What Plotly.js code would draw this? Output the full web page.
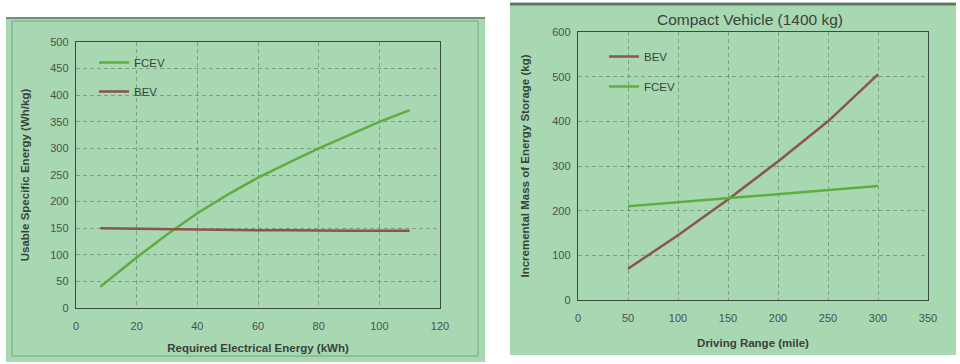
<!DOCTYPE html>
<html>
<head>
<meta charset="utf-8">
<script src="https://cdn.plot.ly/plotly-3.0.1.min.js"></script>
<style>html,body{margin:0;padding:0;background:#fff;}#chart{width:960px;height:364px;}</style>
</head>
<body>
<div id="chart"></div>
<script>
// Left chart: Usable specific energy vs required electrical energy
const energyKWh = [8, 20, 30, 40, 50, 60, 70, 80, 90, 100, 110];
const fcevSpecific = [40, 95, 138, 178, 213, 245, 273, 300, 325, 350, 372];
const bevSpecific = [150, 149, 148, 147, 147, 146, 146, 145, 145, 145, 145];

// Right chart: Incremental mass of energy storage vs driving range
const rangeMile = [50, 100, 150, 200, 250, 300];
const bevMass = [70, 145, 225, 310, 400, 505];
const fcevMass = [210, 219, 228, 237, 246, 255];

const leftXTicks = [0, 20, 40, 60, 80, 100, 120];
const leftYTicks = [0, 50, 100, 150, 200, 250, 300, 350, 400, 450, 500];
const rightXTicks = [0, 50, 100, 150, 200, 250, 300, 350];
const rightYTicks = [0, 100, 200, 300, 400, 500, 600];

const GREEN = '#5dae3e';
const BROWN = '#8c5546';
const BG = '#a8d8b2';
const W = 960, H = 364;
const px = v => v / W;
const py = v => 1 - v / H;

const traces = [
  {x: energyKWh, y: fcevSpecific, name: 'FCEV', type: 'scatter', mode: 'lines', line: {color: GREEN, width: 2.5}, xaxis: 'x', yaxis: 'y', legend: 'legend', legendgroup: 'a'},
  {x: energyKWh, y: bevSpecific, name: 'BEV', type: 'scatter', mode: 'lines', line: {color: BROWN, width: 2.5}, xaxis: 'x', yaxis: 'y', legend: 'legend', legendgroup: 'b'},
  {x: rangeMile, y: bevMass, name: 'BEV', type: 'scatter', mode: 'lines', line: {color: BROWN, width: 2.5}, xaxis: 'x2', yaxis: 'y2', legend: 'legend2', legendgroup: 'c'},
  {x: rangeMile, y: fcevMass, name: 'FCEV', type: 'scatter', mode: 'lines', line: {color: GREEN, width: 2.5}, xaxis: 'x2', yaxis: 'y2', legend: 'legend2', legendgroup: 'd'}
];

const axisCommon = {
  showgrid: true, gridcolor: 'rgba(50,70,55,0.38)', griddash: '4px,3px', gridwidth: 1,
  showline: true, linecolor: '#3c4a40', linewidth: 1.2, mirror: true,
  zeroline: false, ticks: '', tickfont: {family: 'Liberation Sans, Arial, sans-serif', size: 11, color: '#4a524c'},
  fixedrange: true
};
const titleFont = {family: 'Liberation Sans, Arial, sans-serif', size: 11.5, color: '#3a423c', weight: 'bold'};

const layout = {
  width: W, height: H,
  margin: {l: 0, r: 0, t: 0, b: 0},
  paper_bgcolor: '#ffffff',
  plot_bgcolor: 'rgba(0,0,0,0)',
  showlegend: true,
  font: {family: 'Liberation Sans, Arial, sans-serif'},
  title: {text: 'Compact Vehicle (1400 kg)', x: px(750), xanchor: 'center', y: py(20), yanchor: 'middle',
          font: {family: 'Liberation Sans, Arial, sans-serif', size: 15.5, color: '#3a423c'}},
  xaxis: Object.assign({}, axisCommon, {domain: [px(76), px(440)], range: [0, 120], tickvals: leftXTicks, ticklabelstandoff: 8,
    title: {text: 'Required Electrical Energy (kWh)', font: titleFont, standoff: 12}, anchor: 'y'}),
  yaxis: Object.assign({}, axisCommon, {domain: [py(308), py(42)], range: [0, 500], tickvals: leftYTicks, ticklabelstandoff: 4,
    title: {text: 'Usable Specific Energy (Wh/kg)', font: titleFont, standoff: 18}, anchor: 'x'}),
  xaxis2: Object.assign({}, axisCommon, {domain: [px(578), px(928)], range: [0, 350], tickvals: rightXTicks, ticklabelstandoff: 8,
    title: {text: 'Driving Range (mile)', font: titleFont, standoff: 15}, anchor: 'y2'}),
  yaxis2: Object.assign({}, axisCommon, {domain: [py(300), py(32)], range: [0, 600], tickvals: rightYTicks, ticklabelstandoff: 4,
    title: {text: 'Incremental Mass of Energy Storage (kg)', font: titleFont, standoff: 20}, anchor: 'x2'}),
  legend: {x: px(94), y: py(48), xanchor: 'left', yanchor: 'top', bgcolor: 'rgba(0,0,0,0)', borderwidth: 0,
    font: {family: 'Liberation Sans, Arial, sans-serif', size: 11.5, color: '#3a423c'}, tracegroupgap: 10, traceorder: 'grouped', itemwidth: 30},
  legend2: {x: px(604), y: py(42), xanchor: 'left', yanchor: 'top', bgcolor: 'rgba(0,0,0,0)', borderwidth: 0,
    font: {family: 'Liberation Sans, Arial, sans-serif', size: 11.5, color: '#3a423c'}, tracegroupgap: 11, traceorder: 'grouped', itemwidth: 30},
  shapes: [
    {type: 'rect', xref: 'paper', yref: 'paper', x0: px(6), x1: px(485), y0: py(362), y1: py(17), fillcolor: BG, line: {width: 0}, layer: 'below'},
    {type: 'rect', xref: 'paper', yref: 'paper', x0: px(12), x1: px(478), y0: py(356), y1: py(21), fillcolor: 'rgba(0,0,0,0)', line: {width: 1, color: 'rgba(70,100,80,0.45)'}, layer: 'below'},
    {type: 'rect', xref: 'paper', yref: 'paper', x0: px(510), x1: px(956), y0: py(355), y1: py(3), fillcolor: BG, line: {width: 0}, layer: 'below'},
    {type: 'line', xref: 'paper', yref: 'paper', x0: px(510), x1: px(956), y0: py(4), y1: py(4), line: {width: 3, color: 'rgba(40,60,50,0.6)'}, layer: 'below'},
    {type: 'line', xref: 'paper', yref: 'paper', x0: px(6), x1: px(485), y0: py(18), y1: py(18), line: {width: 2, color: 'rgba(40,60,50,0.45)'}, layer: 'below'}
  ]
};

Plotly.newPlot('chart', traces, layout, {displayModeBar: false, staticPlot: true});
</script>
</body>
</html>
